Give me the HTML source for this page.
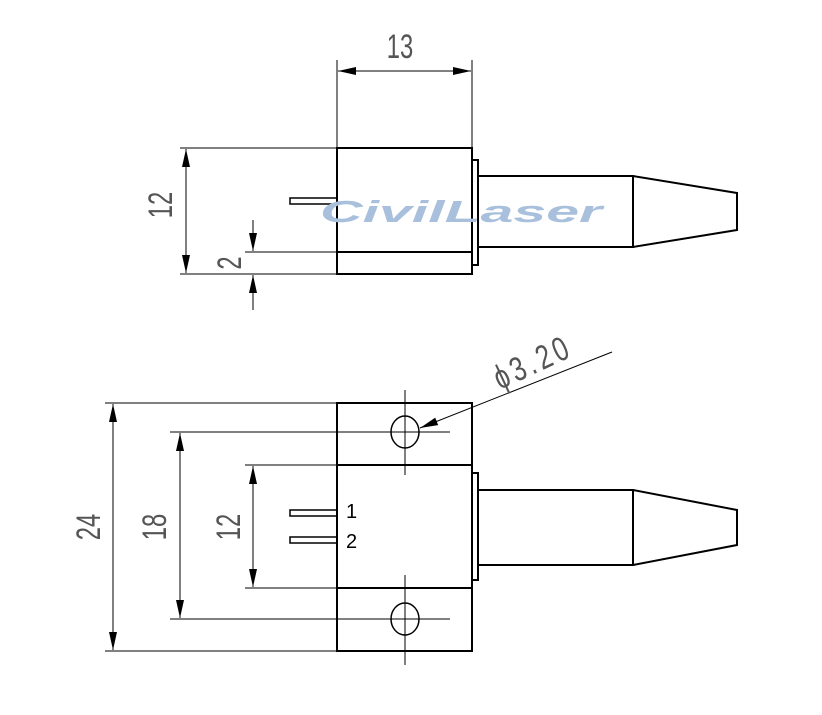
<!DOCTYPE html>
<html><head><style>body{margin:0;background:#fff}svg{display:block}</style></head><body>
<svg width="822" height="715" viewBox="0 0 822 715" xmlns="http://www.w3.org/2000/svg">
<defs>
<marker id="a" viewBox="0 0 18 8" refX="18" refY="4" markerWidth="18" markerHeight="8" orient="auto-start-reverse" markerUnits="userSpaceOnUse"><path d="M0,0 L18,4 L0,8 Z" fill="#000"/></marker>
</defs>
<g fill="none" stroke="#000" stroke-width="2">
<rect x="337" y="148" width="135" height="126"/>
<line x1="337" y1="252" x2="472" y2="252"/>
<rect x="472" y="160" width="6" height="105"/>
<rect x="478" y="176" width="155" height="71"/>
<path d="M633,176 L737,193 L737,230 L633,247"/>
<rect x="290" y="198" width="47" height="6" stroke-width="1.5"/>
<rect x="337" y="403" width="135" height="248"/>
<line x1="337" y1="465" x2="472" y2="465"/>
<line x1="337" y1="588" x2="472" y2="588"/>
<rect x="472" y="473" width="6" height="107"/>
<rect x="478" y="490" width="155" height="75"/>
<path d="M633,490 L737,510 L737,545 L633,565"/>
<rect x="290" y="510" width="47" height="6" stroke-width="1.5"/>
<rect x="290" y="537" width="47" height="6" stroke-width="1.5"/>
<ellipse cx="405" cy="432" rx="14" ry="16" stroke-width="1.5"/>
<ellipse cx="405" cy="619" rx="14" ry="16" stroke-width="1.5"/>
</g>
<g stroke="#000" stroke-width="1" fill="none">
<line x1="337" y1="60" x2="337" y2="148"/>
<line x1="472" y1="60" x2="472" y2="148"/>
<line x1="338" y1="71" x2="471" y2="71" marker-start="url(#a)" marker-end="url(#a)"/>
<line x1="180" y1="148" x2="337" y2="148"/>
<line x1="180" y1="274" x2="337" y2="274"/>
<line x1="186" y1="149" x2="186" y2="273" marker-start="url(#a)" marker-end="url(#a)"/>
<line x1="245" y1="252" x2="337" y2="252"/>
<line x1="253" y1="220" x2="253" y2="251" marker-end="url(#a)"/>
<line x1="253" y1="310" x2="253" y2="275" marker-end="url(#a)"/>
<line x1="105" y1="403" x2="337" y2="403"/>
<line x1="105" y1="651" x2="337" y2="651"/>
<line x1="113" y1="404" x2="113" y2="650" marker-start="url(#a)" marker-end="url(#a)"/>
<line x1="170" y1="432" x2="450" y2="432"/>
<line x1="170" y1="619" x2="450" y2="619"/>
<line x1="180" y1="433" x2="180" y2="618" marker-start="url(#a)" marker-end="url(#a)"/>
<line x1="245" y1="465" x2="337" y2="465"/>
<line x1="245" y1="588" x2="337" y2="588"/>
<line x1="253" y1="466" x2="253" y2="587" marker-start="url(#a)" marker-end="url(#a)"/>
<line x1="405" y1="390" x2="405" y2="475"/>
<line x1="405" y1="575" x2="405" y2="665"/>
<line x1="612" y1="352" x2="420" y2="428" marker-end="url(#a)"/>
</g>
<text x="320" y="222" font-family="Liberation Sans,sans-serif" font-size="31" font-weight="bold" font-style="italic" fill="#a9c0dd" textLength="282" lengthAdjust="spacingAndGlyphs">CivilLaser</text>
<g font-family="Liberation Sans,sans-serif" font-size="34" fill="#555">
<text transform="translate(400,58) scale(0.7,1)" text-anchor="middle">13</text>
<text transform="translate(172,205) rotate(-90) scale(0.7,1)" text-anchor="middle">12</text>
<text transform="translate(241,263) rotate(-90) scale(0.7,1)" text-anchor="middle">2</text>
<text transform="translate(100,527) rotate(-90) scale(0.7,1)" text-anchor="middle">24</text>
<text transform="translate(166,527) rotate(-90) scale(0.7,1)" text-anchor="middle">18</text>
<text transform="translate(240,527) rotate(-90) scale(0.7,1)" text-anchor="middle">12</text>
<text transform="translate(500,390) rotate(-25) scale(0.75,1)" letter-spacing="5">ϕ3.20</text>
</g>
<g font-family="Liberation Sans,sans-serif" font-size="20" fill="#000">
<text x="346" y="518">1</text>
<text x="346" y="548">2</text>
</g>
</svg>
</body></html>
